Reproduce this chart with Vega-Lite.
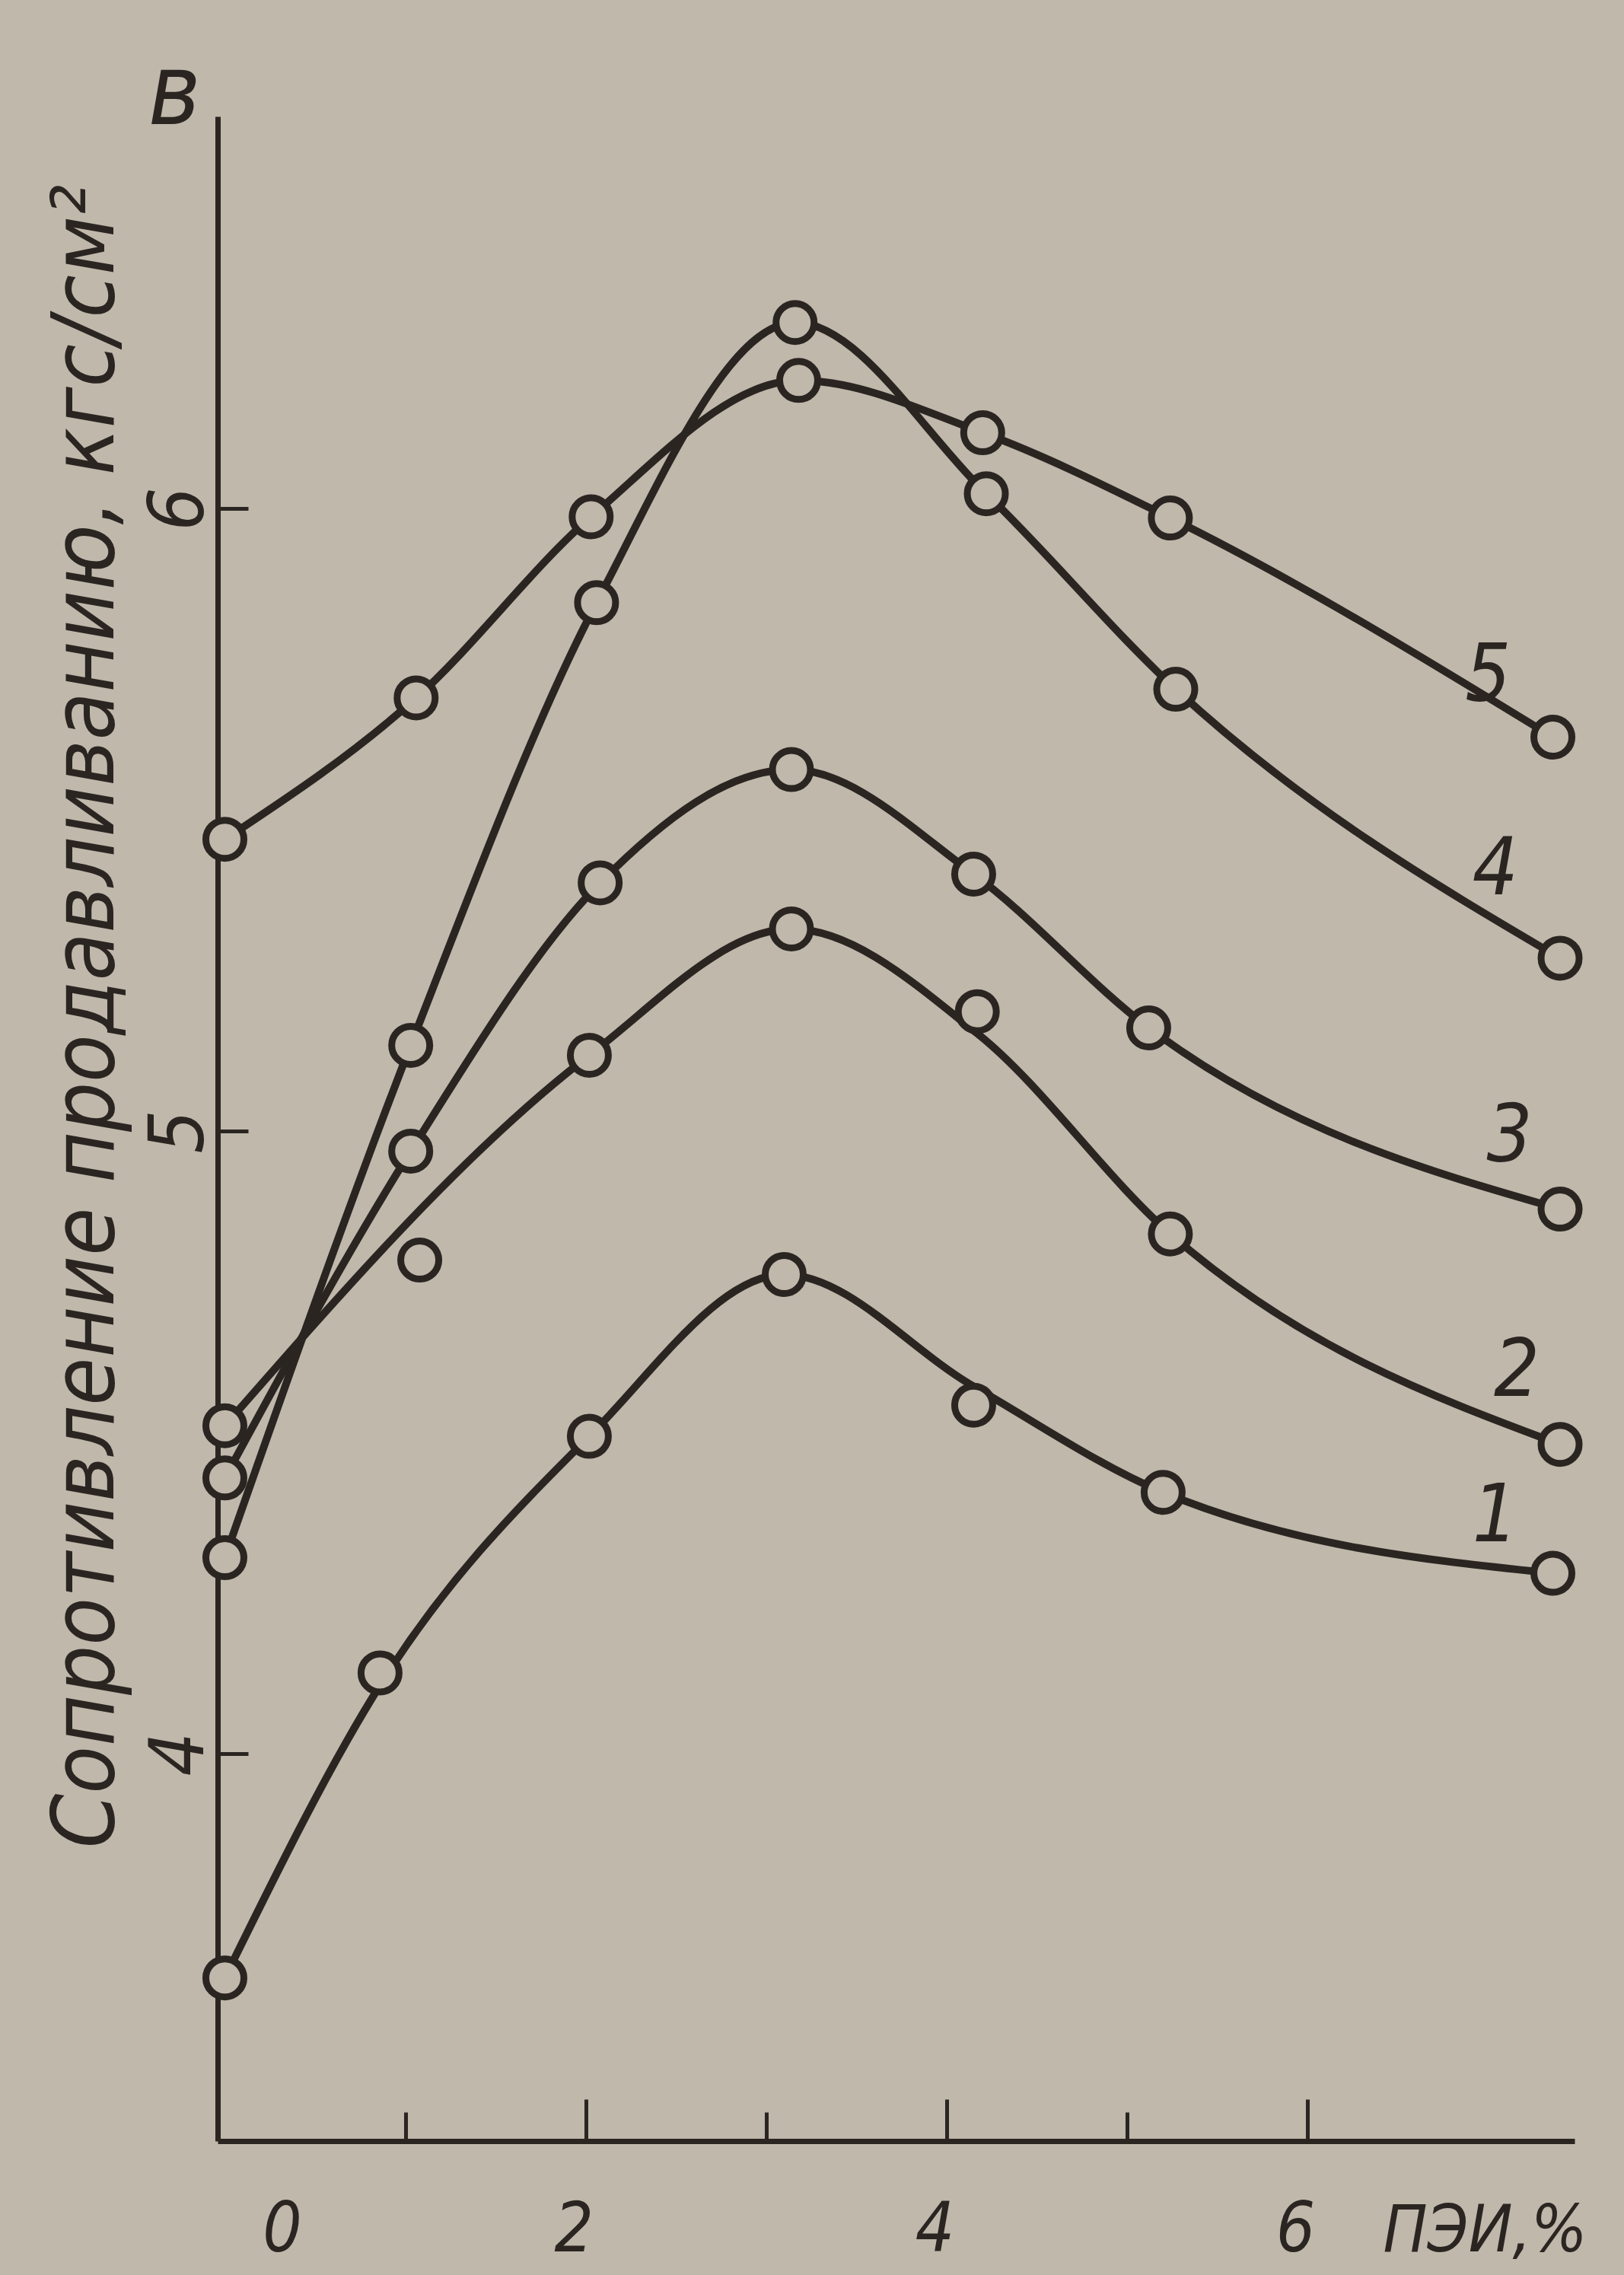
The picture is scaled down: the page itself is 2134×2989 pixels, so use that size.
{
  "$schema": "https://vega.github.io/schema/vega-lite/v6.json",
  "width": 1783,
  "height": 2660,
  "autosize": {"type": "none"},
  "padding": {"left": 286, "top": 153, "right": 65, "bottom": 176},
  "background": "#bfb8ab",
  "config": {
    "view": {"stroke": null},
    "font": "DejaVu Sans Condensed, Liberation Sans Narrow, DejaVu Sans",
    "axis": {
      "grid": false,
      "domainColor": "#2b2522",
      "domainWidth": 7,
      "tickColor": "#2b2522",
      "tickWidth": 5,
      "labelColor": "#2b2522",
      "titleColor": "#2b2522",
      "labelFont": "DejaVu Sans Condensed, Liberation Sans Narrow, DejaVu Sans",
      "titleFont": "DejaVu Sans Condensed, Liberation Sans Narrow, DejaVu Sans",
      "labelFontStyle": "italic",
      "titleFontStyle": "italic",
      "titleFontWeight": "normal",
      "labelFlush": false,
      "labelOverlap": false
    }
  },
  "datasets": {
    "pts": [
      {"curve": "1", "x": 0, "y": 3.64},
      {"curve": "1", "x": 0.86, "y": 4.13},
      {"curve": "1", "x": 2.02, "y": 4.51},
      {"curve": "1", "x": 3.1, "y": 4.77},
      {"curve": "1", "x": 4.15, "y": 4.56},
      {"curve": "1", "x": 5.2, "y": 4.42},
      {"curve": "1", "x": 7.36, "y": 4.29},
      {"curve": "2", "x": 0, "y": 4.527},
      {"curve": "2", "x": 1.08, "y": 4.793},
      {"curve": "2", "x": 2.02, "y": 5.122},
      {"curve": "2", "x": 3.14, "y": 5.325},
      {"curve": "2", "x": 4.17, "y": 5.192},
      {"curve": "2", "x": 5.24, "y": 4.835},
      {"curve": "2", "x": 7.4, "y": 4.497},
      {"curve": "3", "x": 0, "y": 4.443},
      {"curve": "3", "x": 1.03, "y": 4.968},
      {"curve": "3", "x": 2.08, "y": 5.399},
      {"curve": "3", "x": 3.14, "y": 5.581},
      {"curve": "3", "x": 4.15, "y": 5.413},
      {"curve": "3", "x": 5.12, "y": 5.166},
      {"curve": "3", "x": 7.4, "y": 4.875},
      {"curve": "4", "x": 0, "y": 4.315},
      {"curve": "4", "x": 1.03, "y": 5.138},
      {"curve": "4", "x": 2.06, "y": 5.849},
      {"curve": "4", "x": 3.16, "y": 6.299},
      {"curve": "4", "x": 4.22, "y": 6.024},
      {"curve": "4", "x": 5.27, "y": 5.71},
      {"curve": "4", "x": 7.4, "y": 5.278},
      {"curve": "5", "x": 0, "y": 5.469},
      {"curve": "5", "x": 1.06, "y": 5.696},
      {"curve": "5", "x": 2.03, "y": 5.987},
      {"curve": "5", "x": 3.18, "y": 6.206},
      {"curve": "5", "x": 4.2, "y": 6.122},
      {"curve": "5", "x": 5.24, "y": 5.985},
      {"curve": "5", "x": 7.36, "y": 5.633}
    ],
    "trace": [
      {"curve": "1", "x": 0, "y": 3.64},
      {"curve": "1", "x": 0.86, "y": 4.11},
      {"curve": "1", "x": 2.02, "y": 4.51},
      {"curve": "1", "x": 3.1, "y": 4.77},
      {"curve": "1", "x": 4.15, "y": 4.59},
      {"curve": "1", "x": 5.2, "y": 4.42},
      {"curve": "1", "x": 7.36, "y": 4.29},
      {"curve": "2", "x": 0, "y": 4.527},
      {"curve": "2", "x": 2.02, "y": 5.122},
      {"curve": "2", "x": 3.14, "y": 5.325},
      {"curve": "2", "x": 4.17, "y": 5.157},
      {"curve": "2", "x": 5.24, "y": 4.835},
      {"curve": "2", "x": 7.4, "y": 4.497},
      {"curve": "3", "x": 0, "y": 4.443},
      {"curve": "3", "x": 1.03, "y": 4.968},
      {"curve": "3", "x": 2.08, "y": 5.399},
      {"curve": "3", "x": 3.14, "y": 5.581},
      {"curve": "3", "x": 4.15, "y": 5.413},
      {"curve": "3", "x": 5.12, "y": 5.166},
      {"curve": "3", "x": 7.4, "y": 4.875},
      {"curve": "4", "x": 0, "y": 4.315},
      {"curve": "4", "x": 1.03, "y": 5.138},
      {"curve": "4", "x": 2.06, "y": 5.849},
      {"curve": "4", "x": 3.16, "y": 6.299},
      {"curve": "4", "x": 4.22, "y": 6.024},
      {"curve": "4", "x": 5.27, "y": 5.71},
      {"curve": "4", "x": 7.4, "y": 5.278},
      {"curve": "5", "x": 0, "y": 5.469},
      {"curve": "5", "x": 1.06, "y": 5.696},
      {"curve": "5", "x": 2.03, "y": 5.987},
      {"curve": "5", "x": 3.18, "y": 6.206},
      {"curve": "5", "x": 4.2, "y": 6.122},
      {"curve": "5", "x": 5.24, "y": 5.985},
      {"curve": "5", "x": 7.36, "y": 5.633}
    ],
    "labels": [
      {"label": "5", "x": 7.0, "y": 5.73},
      {"label": "4", "x": 7.04, "y": 5.42},
      {"label": "3", "x": 7.12, "y": 4.99},
      {"label": "2", "x": 7.16, "y": 4.614},
      {"label": "1", "x": 7.04, "y": 4.38}
    ],
    "panel": [
      {"label": "в", "x": -0.28, "y": 6.665}
    ]
  },
  "layer": [
    {
      "data": {"name": "trace"},
      "mark": {"type": "line", "interpolate": "monotone", "strokeWidth": 10, "color": "#2b2522", "clip": false},
      "encoding": {
        "x": {
          "field": "x", "type": "quantitative",
          "scale": {"domain": [-0.04, 7.48], "nice": false, "zero": false},
          "axis": {
            "values": [0, 1, 2, 3, 4, 5, 6],
            "tickSize": {"condition": {"test": "datum.value % 2 == 0", "value": -55}, "value": -38},
            "tickOpacity": {"condition": {"test": "datum.value == 0", "value": 0}, "value": 1},
            "labelExpr": "datum.value % 2 == 0 ? format(datum.value, 'd') : ''",
            "labelFontSize": 90,
            "labelBaseline": "middle",
            "labelPadding": 172,
            "labelOffset": {"condition": {"test": "datum.value == 0", "value": 75}, "value": -16},
            "title": "ПЭИ,%",
            "titleFontSize": 86,
            "titleX": 1665,
            "titleY": 118,
            "titleAlign": "center",
            "titleBaseline": "middle",
            "titleAnchor": null
          }
        },
        "y": {
          "field": "y", "type": "quantitative",
          "scale": {"domain": [3.378, 6.63], "nice": false, "zero": false},
          "axis": {
            "values": [4, 5, 6],
            "format": "d",
            "tickSize": -40,
            "labelAngle": 270,
            "labelAlign": "center",
            "labelBaseline": "middle",
            "labelPadding": 90,
            "labelFontSize": 100,
            "title": "Сопротивление продавливанию, кгс/см²",
            "titleFontSize": 114,
            "titleAngle": 270,
            "titleX": -172,
            "titleY": 1182,
            "titleAlign": "center",
            "titleBaseline": "middle"
          }
        },
        "detail": {"field": "curve", "type": "nominal"}
      }
    },
    {
      "data": {"name": "pts"},
      "mark": {"type": "point", "shape": "circle", "filled": true, "fill": "#bfb8ab", "stroke": "#2b2522", "strokeWidth": 9, "size": 2500, "opacity": 1, "clip": false},
      "encoding": {
        "x": {"field": "x", "type": "quantitative"},
        "y": {"field": "y", "type": "quantitative"}
      }
    },
    {
      "data": {"name": "labels"},
      "mark": {"type": "text", "fontSize": 105, "fontStyle": "italic", "color": "#2b2522", "align": "center", "baseline": "middle", "clip": false},
      "encoding": {
        "x": {"field": "x", "type": "quantitative"},
        "y": {"field": "y", "type": "quantitative"},
        "text": {"field": "label", "type": "nominal"}
      }
    },
    {
      "data": {"name": "panel"},
      "mark": {"type": "text", "fontSize": 130, "fontStyle": "italic", "color": "#2b2522", "align": "center", "baseline": "middle", "clip": false},
      "encoding": {
        "x": {"field": "x", "type": "quantitative"},
        "y": {"field": "y", "type": "quantitative"},
        "text": {"field": "label", "type": "nominal"}
      }
    }
  ]
}
